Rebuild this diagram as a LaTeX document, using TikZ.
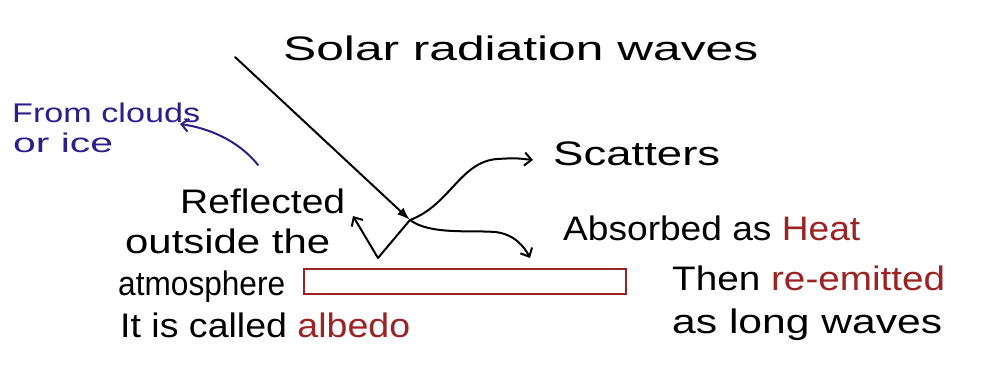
\documentclass[tikz,border=0pt]{standalone}
\usepackage{fontspec}
\setmainfont{Liberation Sans}
\usetikzlibrary{arrows.meta}
\definecolor{hred}{RGB}{155,35,35}
\definecolor{hblue}{RGB}{45,30,140}
\newcommand{\fitw}[2]{\resizebox{#1}{\height}{#2}}
\begin{document}
\begin{tikzpicture}[x=1pt,y=-1pt,
  hw/.style={anchor=base west, inner sep=0pt, font=\fontsize{34}{40}\selectfont},
  hwb/.style={hw, text=hblue, font=\fontsize{27}{32}\selectfont},
  ln/.style={line width=2pt, line cap=round, line join=round},
  barb/.style={-{Straight Barb[length=7pt,width=13pt]}}]
\useasboundingbox (0,0) rectangle (991,367);

% texts
\node[hw] (solar) at (283,60) {\fitw{475pt}{Solar radiation waves}};
\node[hw] (scat) at (553,165) {\fitw{167pt}{Scatters}};
\node[hw] (abs) at (563,240) {\fitw{297pt}{Absorbed as \textcolor{hred}{Heat}}};
\node[hw] (then) at (672,290) {\fitw{273pt}{Then \textcolor{hred}{re-emitted}}};
\node[hw] (long) at (672,333) {\fitw{270pt}{as long waves}};
\node[hw] (refl) at (180,213) {\fitw{165pt}{Reflected}};
\node[hw] (outs) at (125,253) {\fitw{205pt}{outside the}};
\node[hw] (atmo) at (118,295) {\fitw{167pt}{atmosphere}};
\node[hw] (called) at (120,337) {\fitw{290pt}{It is called \textcolor{hred}{albedo}}};
\node[hwb] (from) at (12,122) {\fitw{188pt}{From clouds}};
\node[hwb] (orice) at (13,152) {\fitw{100pt}{or ice}};

% ground
\node[draw=hred, line width=1.8pt, minimum width=322pt, minimum height=25pt,
      inner sep=0pt, anchor=north west] (ground) at (303,268) {};

% connector points
\coordinate (start) at (235,57);
\coordinate (hit) at (410,220);
\coordinate (v) at (378,258);
\coordinate (rtip) at (353,216);
\coordinate (stip) at (533,160);
\coordinate (atip) at (530,258);
\coordinate (bstart) at (258,165);
\coordinate (btip) at (180,124);

% arrows
\draw[ln, -{Latex[length=13pt,width=9pt]}] (start) -- (hit);
\draw[ln, barb] (hit) -- (v) -- (rtip);
\draw[ln, barb] (hit) .. controls (450,205) and (460,162) .. (497,159)
   .. controls (515,158) .. (stip);
\draw[ln, barb] (hit) .. controls (430,235) and (470,230) .. (495,232)
   .. controls (515,234) and (525,248) .. (atip);
\draw[ln, hblue, barb] (bstart) .. controls (238,140) and (208,128) .. (btip);
\end{tikzpicture}
\end{document}
